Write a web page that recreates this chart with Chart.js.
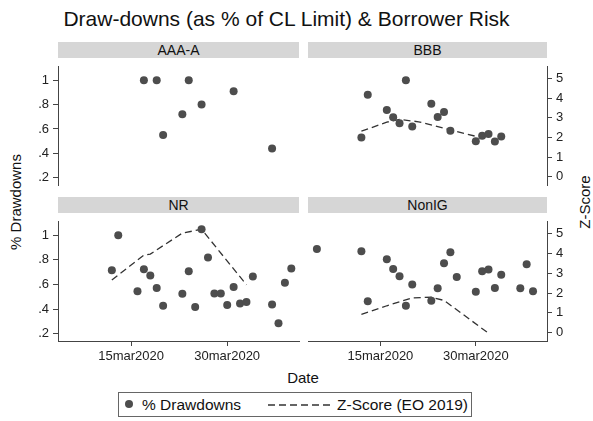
<!DOCTYPE html>
<html>
<head>
<meta charset="utf-8">
<script src="https://cdn.jsdelivr.net/npm/chart.js@4.4.0/dist/chart.umd.min.js"></script>
<style>
    body { margin: 0; background: #fff; font-family: "Liberation Sans", Arial, sans-serif; }
    #wrap { position: relative; width: 593px; height: 421px; overflow: hidden; background: #fff; }
    .panel { position: absolute; }
    .strip { position: absolute; background: #d6d6d6; color: #111; font-size: 14px;
             text-align: center; height: 16px; line-height: 16px; }
    .txt { position: absolute; white-space: nowrap; color: #111; }
</style>
</head>
<body>
<div id="wrap">
    <div class="txt" style="left:0; top:7px; width:573px; text-align:center; font-size:21px; line-height:24px;">Draw-downs (as % of CL Limit) &amp; Borrower Risk</div>
    <div class="txt" style="left:15px; top:202px; font-size:15px; transform:translate(-50%,-50%) rotate(-90deg);">% Drawdowns</div>
    <div class="txt" style="left:584px; top:202px; font-size:15px; transform:translate(-50%,-50%) rotate(-90deg);">Z-Score</div>
    <div class="txt" style="left:253px; top:369px; width:100px; text-align:center; font-size:15px; line-height:18px;">Date</div>

    <div id="legend" style="position:absolute; left:118px; top:392px; width:354px; height:25px; border:1px solid #666; box-sizing:border-box;">
        <span style="position:absolute; left:6px; top:7px; width:8px; height:8px; border-radius:50%; background:#4d4d4d;"></span>
        <span class="txt" style="left:23px; top:3px; font-size:15.5px; line-height:18px;">% Drawdowns</span>
        <svg style="position:absolute; left:149px; top:10px;" width="64" height="4">
            <line x1="0" y1="2" x2="64" y2="2" stroke="#333" stroke-width="1.3" stroke-dasharray="7 4"></line>
        </svg>
        <span class="txt" style="left:218px; top:3px; font-size:15.5px; line-height:18px;">Z-Score (EO 2019)</span>
    </div>
</div>

<script>
/* ==========================================================================
   Data  (x = day of March 2020, so 32 = 1apr2020)
   ========================================================================== */

const xTickDays = [15, 30];
const xTickLabels = ['15mar2020', '30mar2020'];
const drawTicks = [0.2, 0.4, 0.6, 0.8, 1];
const drawTickLabels = ['.2', '.4', '.6', '.8', '1'];
const zTicks = [0, 1, 2, 3, 4, 5];
const zTickLabels = ['0', '1', '2', '3', '4', '5'];

// AAA-A
const aaaDays = [17, 19, 20, 23, 24, 26, 31, 37];
const aaaDraw = [1.0, 1.0, 0.55, 0.72, 1.0, 0.80, 0.91, 0.44];

// BBB
const bbbDays = [12, 13, 16, 17, 18, 19, 20, 23, 24, 25, 26, 30, 31, 32, 33, 34];
const bbbDraw = [0.53, 0.88, 0.755, 0.695, 0.646, 1.0, 0.62, 0.806, 0.698, 0.739, 0.585, 0.50, 0.544, 0.559, 0.497, 0.538];
const bbbZDays = [12, 16, 18, 21, 26, 30];
const bbbZ = [2.32, 2.78, 2.92, 2.8, 2.39, 2.06];

// NR
const nrDays = [12, 13, 16, 17, 18, 19, 20, 23, 24, 25, 26, 27, 28, 29, 30, 31, 32, 33, 34, 37, 38, 39, 40];
const nrDraw = [0.716, 1.0, 0.545, 0.724, 0.672, 0.571, 0.427, 0.525, 0.708, 0.417, 1.049, 0.82, 0.527, 0.527, 0.432, 0.579, 0.445, 0.458, 0.665, 0.437, 0.285, 0.613, 0.729];
const nrZDays = [12, 17, 18, 23, 26, 33];
const nrZ = [2.66, 3.92, 3.97, 5.03, 5.22, 2.42];

// NonIG
const nonDays = [5, 12, 13, 16, 17, 18, 19, 20, 23, 24, 25, 26, 27, 30, 31, 32, 33, 34, 37, 38, 39];
const nonDraw = [0.889, 0.871, 0.463, 0.806, 0.726, 0.667, 0.427, 0.600, 0.468, 0.569, 0.773, 0.863, 0.661, 0.541, 0.708, 0.721, 0.572, 0.680, 0.569, 0.765, 0.545];
const nonZDays = [12, 16, 20, 23, 25, 28, 32];
const nonZ = [0.92, 1.36, 1.76, 1.79, 1.63, 0.92, -0.03];

/* ==========================================================================
   Panels
   ========================================================================== */

Chart.defaults.font.family = '"Liberation Sans", Arial, sans-serif';
Chart.defaults.color = '#222';

const wrap = document.getElementById('wrap');
const AXIS_COLOR = '#444';
const PAD = { left: 58, right: 46, top: 5, bottom: 30 };

function toPoints(xs, ys) {
    return xs.map((x, i) => ({ x: x, y: ys[i] }));
}

function fixedTicks(values) {
    return function(scale) {
        scale.ticks = values.map(v => ({ value: v }));
    };
}

/**
 * One facet of the by-graph
 * @param {string} name - strip label
 * @param {object} area - chart area in page pixels
 * @param {object} opt - data and which axes to show
 */
function makePanel(name, area, opt) {
    const w = area.right - area.left;
    const h = area.bottom - area.top;

    // header strip
    const strip = document.createElement('div');
    strip.className = 'strip';
    strip.style.left = area.left + 'px';
    strip.style.top = (area.top - 18) + 'px';
    strip.style.width = w + 'px';
    strip.textContent = name;
    wrap.appendChild(strip);

    const box = document.createElement('div');
    box.className = 'panel';
    box.style.left = (area.left - PAD.left) + 'px';
    box.style.top = (area.top - PAD.top) + 'px';
    box.style.width = (w + PAD.left + PAD.right) + 'px';
    box.style.height = (h + PAD.top + PAD.bottom) + 'px';
    const canvas = document.createElement('canvas');
    box.appendChild(canvas);
    wrap.appendChild(box);

    const datasets = [{
        label: '% Drawdowns',
        data: toPoints(opt.days, opt.draw),
        yAxisID: 'y',
        showLine: false,
        pointRadius: 4,
        pointBackgroundColor: '#4d4d4d',
        pointBorderColor: '#4d4d4d',
        pointBorderWidth: 0
    }];
    if (opt.zDays) {
        datasets.push({
            label: 'Z-Score (EO 2019)',
            data: toPoints(opt.zDays, opt.z),
            yAxisID: 'y2',
            showLine: true,
            borderColor: '#333',
            borderWidth: 1.3,
            borderDash: [7, 4],
            pointRadius: 0,
            fill: false,
            tension: 0
        });
    }

    const tickGrid = { display: true, drawOnChartArea: false, drawTicks: true, tickLength: 5, color: AXIS_COLOR, lineWidth: 1 };

    // hidden axes still run afterFit, so only size the ones that are drawn
    const sizeTo = (show, prop, px) => function(s) { s[prop] = show ? px : 0; };

    return new Chart(canvas, {
        type: 'scatter',
        data: { datasets: datasets },
        options: {
            responsive: true,
            maintainAspectRatio: false,
            animation: false,
            events: [],
            layout: {
                padding: {
                    left: opt.leftAxis ? 0 : PAD.left,
                    right: opt.rightAxis ? 0 : PAD.right,
                    top: PAD.top,
                    bottom: opt.xAxis ? 0 : PAD.bottom
                }
            },
            plugins: {
                legend: { display: false },
                tooltip: { enabled: false }
            },
            scales: {
                x: {
                    type: 'linear',
                    display: opt.xAxis,
                    min: 3.6,
                    max: 41.2,
                    afterBuildTicks: fixedTicks(xTickDays),
                    afterFit: sizeTo(opt.xAxis, 'height', PAD.bottom),
                    grid: tickGrid,
                    border: { display: true, color: AXIS_COLOR },
                    ticks: {
                        padding: 3,
                        maxRotation: 0,
                        autoSkip: false,
                        font: { size: 13 },
                        callback: function(v, i) { return xTickLabels[i]; }
                    }
                },
                y: {
                    type: 'linear',
                    position: 'left',
                    display: opt.leftAxis,
                    min: 0.14,
                    max: 1.11,
                    afterBuildTicks: fixedTicks(drawTicks),
                    afterFit: sizeTo(opt.leftAxis, 'width', PAD.left),
                    grid: tickGrid,
                    border: { display: true, color: AXIS_COLOR },
                    ticks: {
                        padding: 4,
                        autoSkip: false,
                        font: { size: 13 },
                        callback: function(v, i) { return drawTickLabels[i]; }
                    }
                },
                y2: {
                    type: 'linear',
                    position: 'right',
                    display: opt.rightAxis,
                    min: -0.42,
                    max: 5.6,
                    afterBuildTicks: fixedTicks(zTicks),
                    afterFit: sizeTo(opt.rightAxis, 'width', PAD.right),
                    grid: tickGrid,
                    border: { display: true, color: AXIS_COLOR },
                    ticks: {
                        padding: 4,
                        autoSkip: false,
                        font: { size: 13 },
                        callback: function(v, i) { return zTickLabels[i]; }
                    }
                }
            }
        }
    });
}

makePanel('AAA-A', { left: 58, top: 60, right: 299, bottom: 185 },
    { days: aaaDays, draw: aaaDraw, leftAxis: true, rightAxis: false, xAxis: false });
makePanel('BBB', { left: 308, top: 60, right: 547, bottom: 185 },
    { days: bbbDays, draw: bbbDraw, zDays: bbbZDays, z: bbbZ, leftAxis: false, rightAxis: true, xAxis: false });
makePanel('NR', { left: 58, top: 215, right: 299, bottom: 341 },
    { days: nrDays, draw: nrDraw, zDays: nrZDays, z: nrZ, leftAxis: true, rightAxis: false, xAxis: true });
makePanel('NonIG', { left: 308, top: 215, right: 547, bottom: 341 },
    { days: nonDays, draw: nonDraw, zDays: nonZDays, z: nonZ, leftAxis: false, rightAxis: true, xAxis: true });
</script>
</body>
</html>
